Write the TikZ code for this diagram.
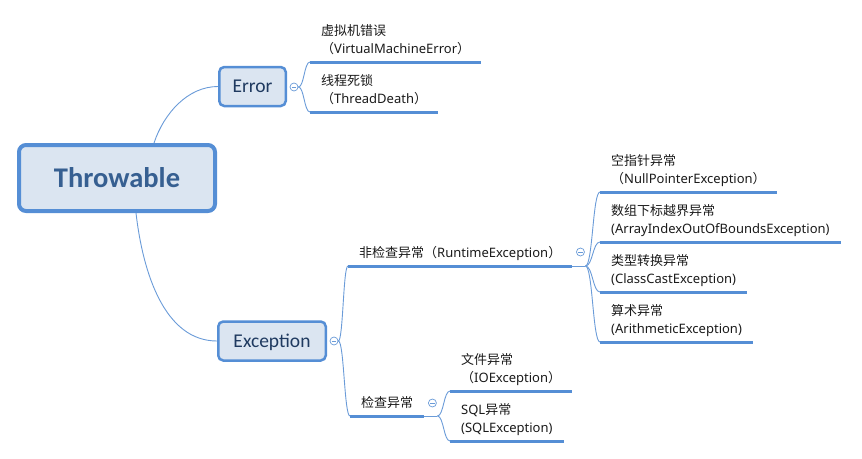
\documentclass[tikz,border=0pt]{standalone}
\usepackage{fontspec}
\setmainfont{Noto Sans}
\newfontfamily\cjk{Noto Sans CJK SC}
\newfontfamily\cali{Carlito}
\usetikzlibrary{calc}
\definecolor{boxfill}{HTML}{DBE5F1}
\definecolor{boxline}{HTML}{558ED5}
\definecolor{linkc}{HTML}{6A9BD8}
\definecolor{titletext}{HTML}{365F91}
\definecolor{boxtext}{HTML}{1F3A60}
\definecolor{leaftext}{HTML}{1A1A1A}
\newcommand{\lastdepth}{\rule[-4pt]{0pt}{4pt}}
\tikzset{
 rootbox/.style={draw=boxline, fill=boxfill, line width=4pt, rounded corners=7pt,
   minimum width=196pt, minimum height=66pt, inner sep=0pt,
   font=\cali\fontsize{28.5}{32}\selectfont\bfseries, text=titletext,
   text height=18.3pt, text depth=0pt},
 mainbox/.style={draw=boxline, fill=boxfill, line width=2.5pt, rounded corners=5pt,
   minimum height=39pt, inner sep=0pt,
   font=\cali\fontsize{19.5}{22}\selectfont, text=boxtext,
   text height=12.6pt, text depth=0pt},
 topic/.style={anchor=south west, align=left, inner xsep=11pt, inner ysep=4pt,
   font=\fontsize{13}{18}\selectfont, text=leaftext},
 uline/.style={draw=boxline, line width=3pt},
 link/.style={draw=linkc, line width=0.9pt},
 bracket/.style={link, to path={let \p1=(\tikztostart), \p2=(\tikztotarget) in
   .. controls ({0.5*\x1+0.5*\x2},\y1) and ({0.5*\x1+0.5*\x2},\y2) .. (\tikztotarget) \tikztonodes}},
 fold/.style={circle, draw=linkc, fill=white, line width=0.7pt, minimum size=8pt, inner sep=0pt,
   path picture={\draw[linkc, line width=0.7pt] ([xshift=-2.2pt]path picture bounding box.center) -- ([xshift=2.2pt]path picture bounding box.center);}},
}
\begin{document}
\begin{tikzpicture}[x=1pt,y=-1pt]
\useasboundingbox (0,0) rectangle (862,458);
% main topics
\node[rootbox] (T) at (117,178) {Throwable};
\node[mainbox, minimum width=66.5pt] (Err) at (252.5,86.5) {Error};
\node[mainbox, minimum width=107.5pt] (Exc) at (272,341) {Exception};
% sub topics
\node[topic] (rt) at (348,266) {{\cjk 非检查异常（}RuntimeException{\cjk ）}\lastdepth};
\node[topic] (ck) at (350,416) {{\cjk 检查异常}\lastdepth};
% leaves
\node[topic] (e1) at (310,62) {{\cjk 虚拟机错误}\\{\cjk （}VirtualMachineError{\cjk ）}\lastdepth};
\node[topic] (e2) at (310,112) {{\cjk 线程死锁}\\{\cjk （}ThreadDeath{\cjk ）}\lastdepth};
\node[topic] (r1) at (600,192) {{\cjk 空指针异常}\\{\cjk （}NullPointerException{\cjk ）}\lastdepth};
\node[topic] (r2) at (600,242) {{\cjk 数组下标越界异常}\\(ArrayIndexOutOfBoundsException)\lastdepth};
\node[topic] (r3) at (600,292) {{\cjk 类型转换异常}\\(ClassCastException)\lastdepth};
\node[topic] (r4) at (600,342) {{\cjk 算术异常}\\(ArithmeticException)\lastdepth};
\node[topic] (c1) at (450,391) {{\cjk 文件异常}\\{\cjk （}IOException{\cjk ）}\lastdepth};
\node[topic] (c2) at (450,441) {SQL{\cjk 异常}\\(SQLException)\lastdepth};
% underlines
\foreach \nd in {rt,ck,e1,e2,r1,r2,r3,r4,c1,c2}
  \draw[uline] (\nd.south west) -- (\nd.south east);
% junction points
\coordinate (rtj) at ($(rt.south east)+(13,0)$);
\coordinate (ckj) at ($(ck.south east)+(13,0)$);
\draw[link] (rt.south east) -- (rtj);
\draw[link] (ck.south east) -- (ckj);
% connectors from the root
\draw[link] ($(T.north west)+(137,0)$) .. controls +(10,-30) and +(-30,0) .. (Err.west);
\draw[link] ($(T.south west)+(119,0)$) .. controls +(7,61) and +(-52,0) .. (Exc.west);
% fold buttons
\node[fold] (fE) at (294,87) {};
\node[fold] (fX) at (334,341) {};
\node[fold] (fR) at ($(rt.south east)+(8,-14)$) {};
\node[fold] (fC) at ($(ck.south east)+(8,-13)$) {};
% branches
\draw[bracket] (fE.east) to (e1.south west);
\draw[bracket] (fE.east) to (e2.south west);
\draw[bracket] (fX.east) to (rt.south west);
\draw[bracket] (fX.east) to (ck.south west);
\draw[bracket] (rtj) to (r1.south west);
\draw[bracket] (rtj) to (r2.south west);
\draw[bracket] (rtj) to (r3.south west);
\draw[bracket] (rtj) to (r4.south west);
\draw[bracket] (ckj) to (c1.south west);
\draw[bracket] (ckj) to (c2.south west);
\end{tikzpicture}
\end{document}
